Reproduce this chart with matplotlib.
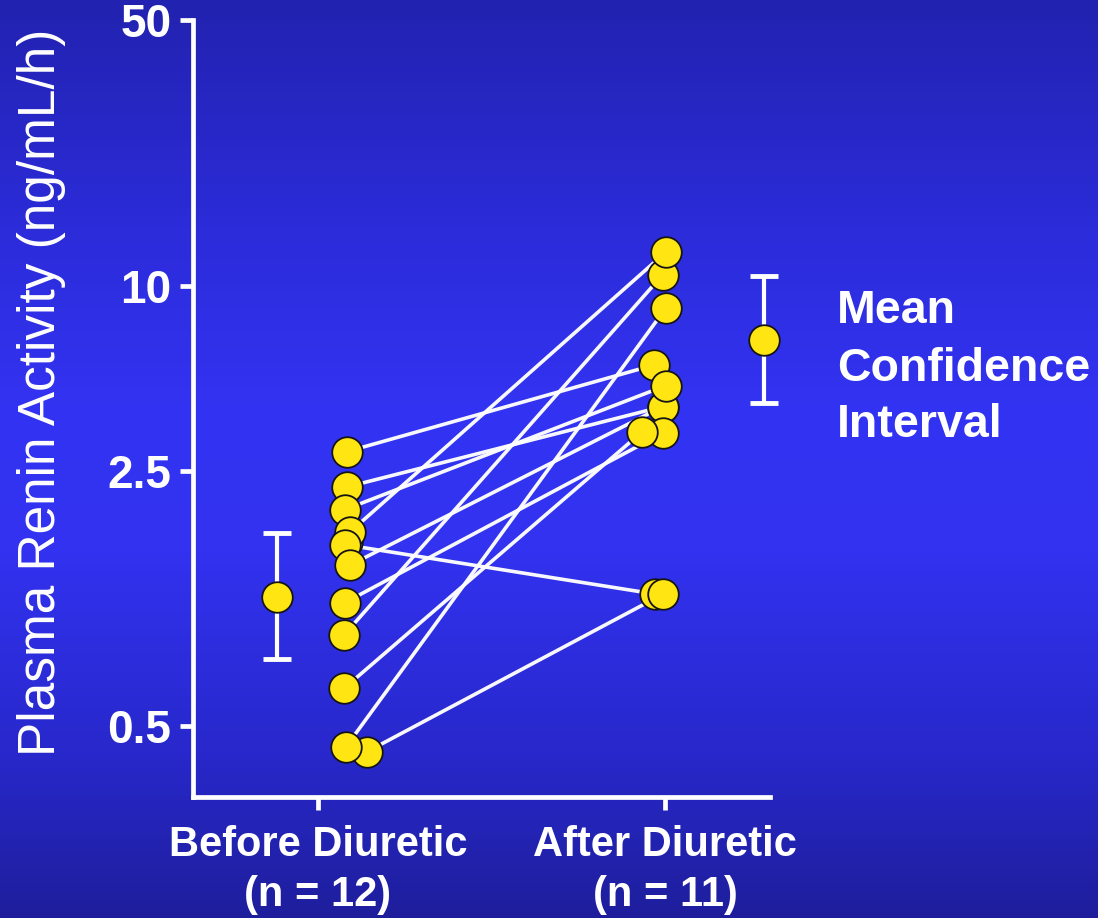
import numpy as np
import matplotlib
matplotlib.use("Agg")
import matplotlib.pyplot as plt
from matplotlib.colors import LinearSegmentedColormap
from matplotlib.ticker import NullLocator

nan = np.nan

# ---------------- data ----------------
group_labels = ["Before Diuretic\n(n = 12)", "After Diuretic\n(n = 11)"]
y_ticks = [0.5, 2.5, 10, 50]
y_tick_labels = ["0.5", "2.5", "10", "50"]

# plasma renin activity per patient (ng/mL/h); nan = no value after diuretic
before_pra = [2.89, 2.26, 1.96, 1.60, 1.70, 1.57, 1.38, 1.09, 0.888, 0.634, 0.425, 0.439]
after_pra = [5.53, 4.05, 4.74, nan, 12.27, 1.15, 4.05, 3.32, 10.69, 3.36, 1.15, 8.46]

# group mean and confidence interval
mean_pra = [1.129, 6.67]
ci_low = [0.763, 4.16]
ci_high = [1.69, 10.62]

legend_lines = ["Mean", "Confidence", "Interval"]

# ---------------- layout ----------------
W, H = 1098, 918
before_dx = [0.083, 0.083, 0.078, 0.085, 0.092, 0.078, 0.092, 0.078, 0.075, 0.075, 0.141, 0.081]
after_dx = [-0.032, -0.007, 0.002, nan, 0.002, -0.029, -0.007, -0.007, -0.007, -0.065, -0.005, 0.002]
after_draw_order = [8, 4, 11, 1, 0, 6, 2, 7, 9, 5, 10]
mean_x = [-0.118, 1.285]

YELLOW = "#FFE612"
EDGE = "#151515"

plt.rcParams["font.family"] = ["Liberation Sans", "DejaVu Sans"]

fig = plt.figure(figsize=(W / 100, H / 100), dpi=100)

# background gradient
bg = fig.add_axes([0, 0, 1, 1], zorder=-10)
cmap = LinearSegmentedColormap.from_list(
    "bg",
    [(0.0, "#2222B0"), (0.25, "#2C2CDA"), (0.45, "#3333F3"),
     (0.6, "#3232F0"), (0.82, "#2828CC"), (1.0, "#1E1E9C")])
grad = np.linspace(0, 1, 256).reshape(-1, 1)
bg.imshow(grad, aspect="auto", cmap=cmap, extent=[0, 1, 0, 1], origin="upper")
bg.set_axis_off()

ax = fig.add_axes([193 / W, 1 - 797 / H, (770 - 193) / W, (797 - 20) / H])
ax.set_facecolor("none")

# custom y scale (log-like, piecewise between ticks as in the original)
kv = np.log10(np.array(y_ticks, dtype=float))
kp = np.array([71.0, 326.0, 511.0, 777.0])
s_lo = (kp[1] - kp[0]) / (kv[1] - kv[0])
s_hi = (kp[3] - kp[2]) / (kv[3] - kv[2])
L = np.concatenate([[-8.0], kv, [8.0]])
U = np.concatenate([[kp[0] - s_lo * (kv[0] + 8.0)], kp, [kp[3] + s_hi * (8.0 - kv[3])]])


def fwd(v):
    v = np.asarray(v, dtype=float)
    return np.interp(np.log10(np.clip(v, 1e-8, None)), L, U)


def inv(u):
    u = np.asarray(u, dtype=float)
    return 10 ** np.interp(u, U, L)


ax.set_yscale("function", functions=(fwd, inv))
ax.set_ylim(float(inv(0.0)), 50)
ax.set_xlim((193 - 318) / 347, (770 - 318) / 347)

# connecting lines
for i, (b, a) in enumerate(zip(before_pra, after_pra)):
    if np.isnan(a):
        continue
    ax.plot([0 + before_dx[i], 1 + after_dx[i]], [b, a], color="white",
            lw=2.6, solid_capstyle="round", zorder=2, alpha=0.97)

msize = 22.0
for i, b in enumerate(before_pra):
    ax.scatter([0 + before_dx[i]], [b], s=msize ** 2, c=YELLOW,
               edgecolors=EDGE, linewidths=1.3, zorder=3 + i * 0.01)
for k, i in enumerate(after_draw_order):
    ax.scatter([1 + after_dx[i]], [after_pra[i]], s=msize ** 2, c=YELLOW,
               edgecolors=EDGE, linewidths=1.3, zorder=3 + k * 0.01)

# mean and CI
for x, m, lo, hi in zip(mean_x, mean_pra, ci_low, ci_high):
    ax.errorbar([x], [m], yerr=[[m - lo], [hi - m]], fmt="none", ecolor="white",
                elinewidth=3.0, capsize=10, capthick=3.5, zorder=3, clip_on=False)
    ax.scatter([x], [m], s=msize ** 2, c=YELLOW, edgecolors=EDGE,
               linewidths=1.3, zorder=4, clip_on=False)

# axes styling
for side in ["top", "right"]:
    ax.spines[side].set_visible(False)
for side in ["left", "bottom"]:
    ax.spines[side].set_color("white")
    ax.spines[side].set_linewidth(3.4)

ax.yaxis.set_minor_locator(NullLocator())
ax.set_yticks(y_ticks)
ax.set_yticklabels(y_tick_labels)
ax.set_xticks([0, 1])
ax.set_xticklabels(group_labels, linespacing=1.3)
ax.tick_params(axis="both", colors="white", width=3.4, length=9.5, direction="out")
ax.tick_params(axis="y", labelsize=33, pad=6)
ax.tick_params(axis="x", labelsize=30, pad=11)
for lab in ax.get_yticklabels() + ax.get_xticklabels():
    lab.set_fontweight("bold")
    lab.set_color("white")

fig.text(42 / W, 1 - 392 / H, "Plasma Renin Activity (ng/mL/h)", rotation=90,
         ha="center", va="center", fontsize=37, color="white")

for txt, yb in zip(legend_lines, [323, 381, 437]):
    fig.text(837 / W, 1 - yb / H, txt, ha="left", va="baseline", fontsize=33.5,
             fontweight="bold", color="white")

fig.savefig("out.png", dpi=100)
